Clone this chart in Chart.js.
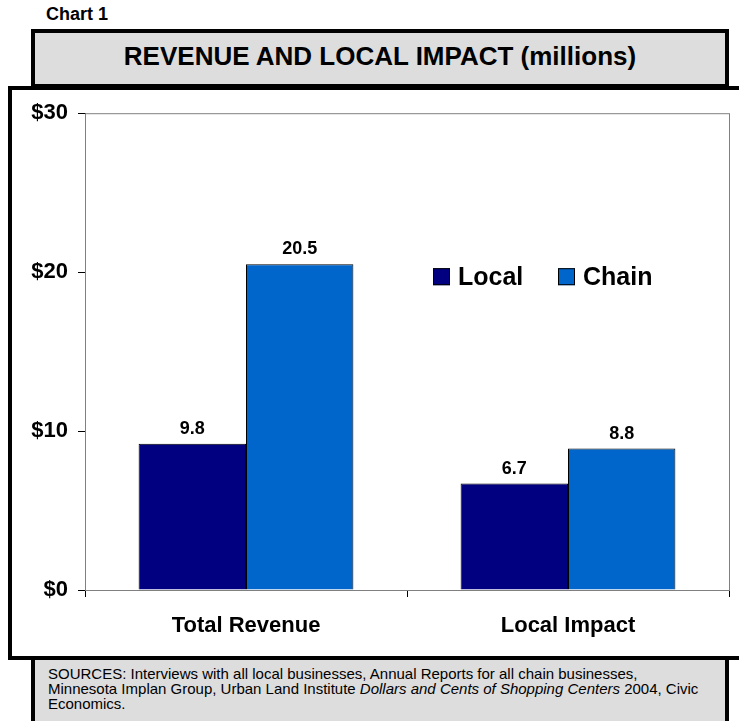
<!DOCTYPE html>
<html>
<head>
<meta charset="utf-8">
<script src="https://cdn.jsdelivr.net/npm/chart.js@4"></script>
<style>
  html, body { margin: 0; padding: 0; background: #fff; }
  body { width: 739px; height: 721px; position: relative; overflow: hidden; font-family: "Liberation Sans", Arial, sans-serif; }
  #chart-num { position: absolute; left: 46px; top: 4px; font-size: 18px; font-weight: bold; }
  #title-box {
    position: absolute; left: 31px; top: 29px; width: 698px; height: 59px; box-sizing: border-box;
    border: 4px solid #000; background: #dddddd;
    display: flex; align-items: center; justify-content: center;
    font-size: 26px; font-weight: bold; padding-bottom: 4px;
  }
  #main-box {
    position: absolute; left: 8px; top: 86px; width: 780px; height: 574px; box-sizing: border-box;
    border: 4px solid #000; background: #fff; z-index: 2;
  }
  #chart-wrap { position: absolute; left: 0; top: 0; }
  #sources {
    position: absolute; left: 31px; top: 656px; width: 698px; height: 90px; box-sizing: border-box;
    border: 4px solid #000; background: #dddddd; z-index: 1;
    font-size: 15px; line-height: 15px; padding: 6px 0 0 13px;
  }
</style>
</head>
<body>
<div id="chart-num">Chart 1</div>
<div id="title-box">REVENUE AND LOCAL IMPACT (millions)</div>
<div id="main-box">
  <div id="chart-wrap"><canvas id="revenueChart" width="727" height="565"></canvas></div>
</div>
<div id="sources">SOURCES: Interviews with all local businesses, Annual Reports for all chain businesses,<br>Minnesota Implan Group, Urban Land Institute <i>Dollars and Cents of Shopping Centers</i> 2004, Civic<br>Economics.</div>

<script>
// ----------------------------------------------------
// DATA
// ----------------------------------------------------
const categories = ['Total Revenue', 'Local Impact'];
const seriesNames = ['Local', 'Chain'];
const localValues = [9.2, 6.7];   // bar heights as drawn
const chainValues = [20.5, 8.9];
const localLabels = ['9.8', '6.7']; // value labels as printed
const chainLabels = ['20.5', '8.8'];
const yTicks = [0, 10, 20, 30];

const colors = ['#000080', '#0066CC'];
const FONT = '"Liberation Sans", Arial, sans-serif';

// draws the gray plot-area frame
const plotFrame = {
    id: 'plotFrame',
    beforeDatasetsDraw(chart) {
        const { ctx, chartArea: a } = chart;
        ctx.save();
        ctx.strokeStyle = '#808080';
        ctx.lineWidth = 1;
        ctx.strokeRect(a.left + 0.5, a.top + 0.5, a.right - a.left, a.bottom - a.top);
        ctx.restore();
    }
};

// value labels above each bar
const valueLabels = {
    id: 'valueLabels',
    afterDatasetsDraw(chart) {
        const { ctx } = chart;
        ctx.save();
        ctx.font = 'bold 18px ' + FONT;
        ctx.fillStyle = '#000';
        ctx.textAlign = 'center';
        ctx.textBaseline = 'alphabetic';
        chart.data.datasets.forEach((ds, i) => {
            chart.getDatasetMeta(i).data.forEach((bar, j) => {
                ctx.fillText(ds.valueText[j], bar.x, bar.y - 10);
            });
        });
        ctx.restore();
    }
};

// legend inside the plot area
const innerLegend = {
    id: 'innerLegend',
    afterDraw(chart) {
        const { ctx, chartArea: a } = chart;
        const w = a.right - a.left;
        const boxSize = 17;
        const top = a.top + 155;
        const starts = [a.left + w * 0.540, a.left + w * 0.734];
        ctx.save();
        ctx.font = 'bold 25px ' + FONT;
        ctx.textBaseline = 'alphabetic';
        ctx.textAlign = 'left';
        chart.data.datasets.forEach((ds, i) => {
            const x = Math.round(starts[i]);
            ctx.fillStyle = ds.backgroundColor;
            ctx.fillRect(x, top, boxSize, boxSize);
            ctx.strokeStyle = '#000';
            ctx.lineWidth = 1;
            ctx.strokeRect(x + 0.5, top + 0.5, boxSize - 1, boxSize - 1);
            ctx.fillStyle = '#000';
            ctx.fillText(ds.label, x + 25, top + boxSize);
        });
        ctx.restore();
    }
};

const ctx = document.getElementById('revenueChart').getContext('2d');
new Chart(ctx, {
    type: 'bar',
    data: {
        labels: categories,
        datasets: [
            { label: seriesNames[0], data: localValues, valueText: localLabels, backgroundColor: colors[0], borderColor: '#000', borderWidth: 1 },
            { label: seriesNames[1], data: chainValues, valueText: chainLabels, backgroundColor: colors[1], borderColor: '#000', borderWidth: 1 }
        ]
    },
    options: {
        responsive: false,
        animation: false,
        devicePixelRatio: 1,
        categoryPercentage: 0.667,
        barPercentage: 1.0,
        layout: { padding: { top: 23, right: 10, bottom: 0, left: 0 } },
        plugins: { legend: { display: false }, tooltip: { enabled: false } },
        scales: {
            x: {
                afterFit: s => { s.height = 65; },
                grid: { drawOnChartArea: false, tickLength: 7, color: '#000', offset: true },
                border: { color: '#000', width: 1 },
                ticks: { color: '#000', padding: 16, font: { family: FONT, size: 22, weight: 'bold' } }
            },
            y: {
                min: yTicks[0],
                max: yTicks[yTicks.length - 1],
                afterFit: s => { s.width = 73; },
                afterBuildTicks: s => { s.ticks = yTicks.map(v => ({ value: v })); },
                grid: { drawOnChartArea: false, tickLength: 7, color: '#000' },
                border: { color: '#000', width: 1 },
                ticks: { color: '#000', padding: 10, font: { family: FONT, size: 22, weight: 'bold' }, callback: v => '$' + v }
            }
        }
    },
    plugins: [plotFrame, valueLabels, innerLegend]
});
</script>
</body>
</html>
